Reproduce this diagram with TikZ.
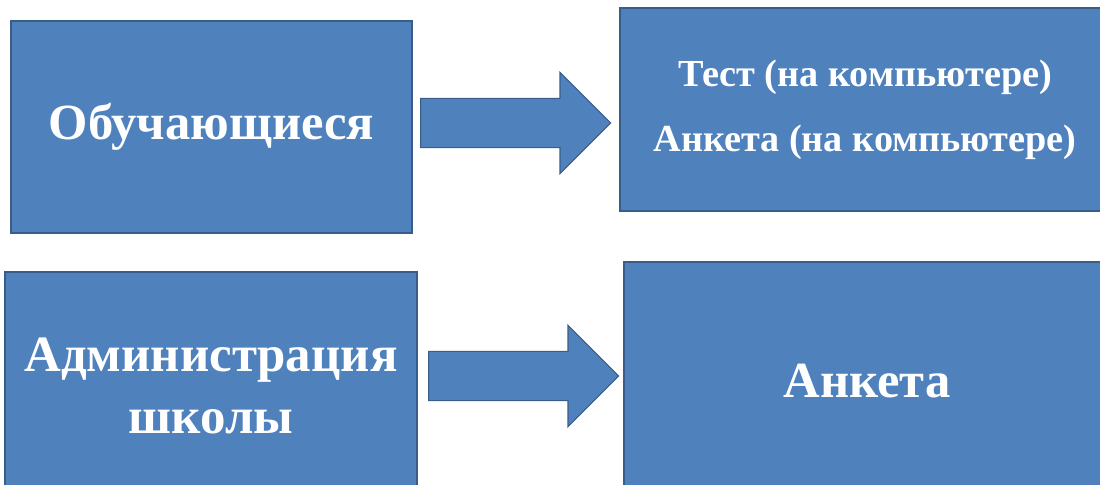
\documentclass[tikz,border=0pt]{standalone}
\usepackage{fontspec}
\setmainfont{Liberation Serif}
\usepackage{xcolor}
\usetikzlibrary{shapes.arrows}
\definecolor{boxblue}{HTML}{4F81BD}
\definecolor{edgeblue}{HTML}{385D8A}
\tikzset{
  bluebox/.style={draw=edgeblue, fill=boxblue, line width=0.8pt, text=white, font=\bfseries, align=center, inner sep=0pt},
  blockarrow/.style={single arrow, draw=edgeblue, fill=boxblue, line width=0.8pt, inner xsep=0pt, inner ysep=6mm, minimum height=47.5mm, single arrow head extend=6.5mm, anchor=west}
}

\begin{document}
\begin{tikzpicture}[x=0.025cm, y=-0.025cm]
\useasboundingbox (0,0) rectangle (1100,485);
\clip (0,0) rectangle (1100,485);
\node[bluebox, minimum width=100.25mm, minimum height=53mm, font=\bfseries\fontsize{36}{44}\selectfont] (obu) at (211.5,127) {Обучающиеся};
\node[bluebox, minimum width=122.5mm, minimum height=50.75mm, font=\bfseries\fontsize{27.2}{46}\selectfont] (test) at (865,109.5) {Тест (на компьютере)\\Анкета (на компьютере)};
\node[bluebox, minimum width=103mm, minimum height=57mm, font=\bfseries\fontsize{36.2}{44}\selectfont] (adm) at (211,386) {Администрация\\школы};
\node[bluebox, minimum width=121.5mm, minimum height=59.5mm, font=\bfseries\fontsize{36}{44}\selectfont] (ank) at (867,381) {Анкета};
\node[blockarrow] (arr1) at (420,123) {};
\node[blockarrow] (arr2) at (428,376) {};
\end{tikzpicture}
\end{document}
